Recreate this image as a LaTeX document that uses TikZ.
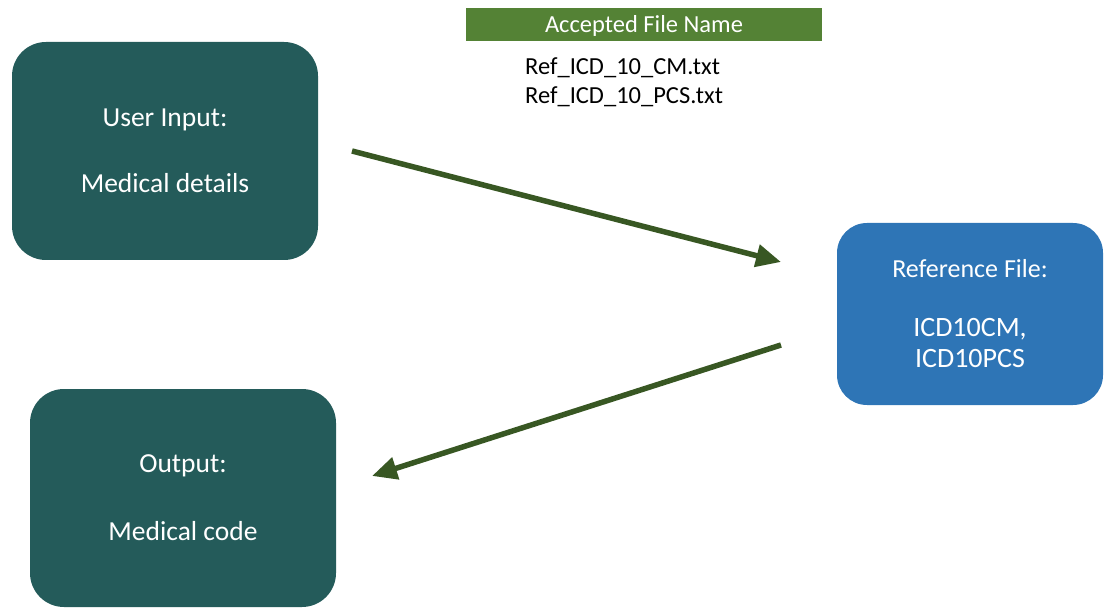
\documentclass[tikz,border=0pt]{standalone}
\usepackage{fontspec}
\setmainfont{Carlito}
\usetikzlibrary{arrows.meta}
\definecolor{tealbox}{HTML}{245B5A}
\definecolor{bluebox}{HTML}{2E75B6}
\definecolor{hdrgreen}{HTML}{548235}
\definecolor{arrgreen}{HTML}{385723}
\tikzset{
  procbox/.style={fill=tealbox, draw=none, rounded corners=34pt, text=white, align=center,
    minimum width=306pt, minimum height=218pt, inner sep=0pt,
    font=\fontsize{27.5}{33}\selectfont},
  refbox/.style={fill=bluebox, draw=none, rounded corners=30pt, text=white, align=center,
    minimum width=266pt, minimum height=182pt, inner sep=0pt,
    font=\fontsize{28}{31}\selectfont},
  flowarrow/.style={draw=arrgreen, line width=5.5pt, -{Triangle[length=25pt,width=22pt]}},
}
\begin{document}
\begin{tikzpicture}[x=1pt,y=1pt]
\useasboundingbox (0,0) rectangle (1107,608);
% header
\node[fill=hdrgreen, minimum width=356pt, minimum height=33pt, inner sep=0pt,
  anchor=north] (hdr) at (644,600) {};
\node[text=white, inner sep=0pt, anchor=base, font=\fontsize{24.5}{28}\selectfont]
  (hdrtext) at (644,575) {Accepted File Name};
\node[anchor=north west, align=left, inner sep=0pt, font=\fontsize{24.5}{29}\selectfont]
  (files) at (525,550) {Ref\_ICD\_10\_CM.txt\\Ref\_ICD\_10\_PCS.txt};
% boxes
\node[procbox] (input) at (165,457) {User Input:\\[33pt]Medical details};
\node[procbox] (output) at (183,110) {Output:\\[35pt]Medical code};
\node[refbox] (ref) at (970,294) {{\fontsize{26}{31}\selectfont Reference File:}\\[28pt]ICD10CM,\\ICD10PCS};
% arrows
\coordinate (a1s) at (352,457);
\coordinate (a1e) at (781,346);
\coordinate (a2s) at (781,263);
\coordinate (a2e) at (372,132);
\draw[flowarrow] (a1s) -- (a1e);
\draw[flowarrow] (a2s) -- (a2e);
\end{tikzpicture}
\end{document}
